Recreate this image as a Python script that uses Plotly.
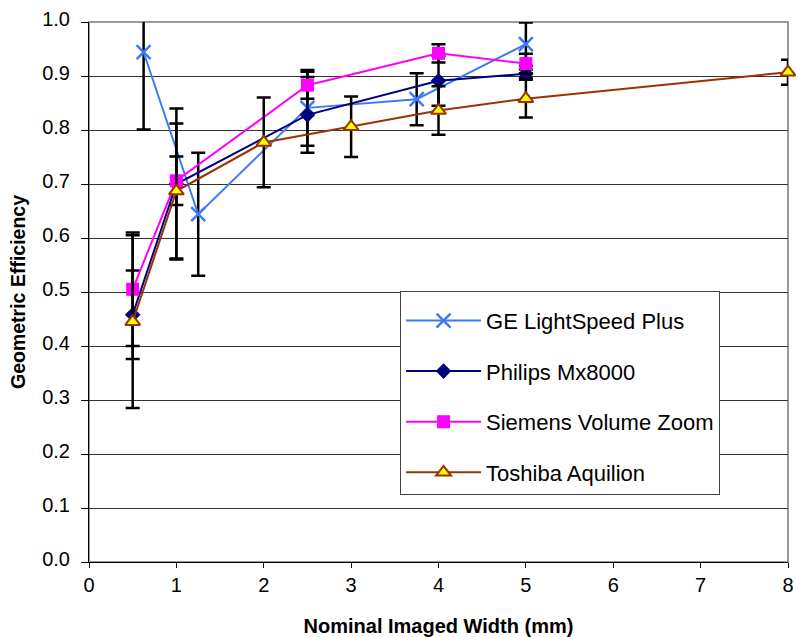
import plotly.graph_objects as go

# ---- data ----
ge_x = [0.625, 1.25, 2.5, 3.75, 5]
ge_y = [0.944, 0.644, 0.841, 0.857, 0.959]
ge_err = [0.143, 0.114, 0.070, 0.048, 0.040]

ph_x = [0.5, 1, 2.5, 4, 5]
ph_y = [0.458, 0.700, 0.828, 0.891, 0.904]
ph_err = [0.082, 0.140, 0.070, 0.046, 0.008]

si_x = [0.5, 1, 2.5, 4, 5]
si_y = [0.505, 0.706, 0.883, 0.942, 0.923]
si_err = [0.105, 0.045, 0.025, 0.017, 0.018]

to_x = [0.5, 1, 2, 3, 4, 5, 8]
to_y = [0.445, 0.687, 0.777, 0.806, 0.836, 0.858, 0.907]
to_err = [0.160, 0.125, 0.083, 0.056, 0.045, 0.035, 0.023]

x_ticks = [0, 1, 2, 3, 4, 5, 6, 7, 8]
y_ticks = [0.0, 0.1, 0.2, 0.3, 0.4, 0.5, 0.6, 0.7, 0.8, 0.9, 1.0]

FONT = "Arial, Liberation Sans, sans-serif"

def eb(err):
    return dict(type="data", array=err, visible=True, color="black",
                thickness=2.5, width=7)

fig = go.Figure()
fig.add_trace(go.Scatter(
    x=ge_x, y=ge_y, name="GE LightSpeed Plus", mode="lines+markers",
    line=dict(color="#3D7BF5", width=2),
    marker=dict(symbol="x-thin-open", size=14, line=dict(color="#3D7BF5", width=2.5)),
    error_y=eb(ge_err), legendgroup="a"))
fig.add_trace(go.Scatter(
    x=ph_x, y=ph_y, name="Philips Mx8000", mode="lines+markers",
    line=dict(color="#000080", width=2),
    marker=dict(symbol="diamond", size=12, color="#000080"),
    error_y=eb(ph_err), legendgroup="b", cliponaxis=False))
fig.add_trace(go.Scatter(
    x=si_x, y=si_y, name="Siemens Volume Zoom", mode="lines+markers",
    line=dict(color="#FF00FF", width=2),
    marker=dict(symbol="square", size=13, color="#FF00FF"),
    error_y=eb(si_err), legendgroup="c", cliponaxis=False))
fig.add_trace(go.Scatter(
    x=to_x, y=to_y, name="Toshiba Aquilion", mode="lines+markers",
    line=dict(color="#993300", width=2),
    marker=dict(symbol="triangle-up", size=13, color="#FFFF00",
                line=dict(color="#993300", width=2)),
    error_y=eb(to_err), legendgroup="d", cliponaxis=False))

fig.update_layout(
    width=796, height=637,
    margin=dict(l=89, r=8, t=22, b=75, autoexpand=False),
    paper_bgcolor="white", plot_bgcolor="white",
    font=dict(family=FONT, size=20, color="black"),
    showlegend=True,
    legend=dict(x=0.445, y=0.502, xanchor="left", yanchor="top",
                bgcolor="white", bordercolor="#444", borderwidth=1,
                font=dict(size=22), tracegroupgap=19,
                title=dict(text=" ", font=dict(size=6)),
                itemwidth=75),
    shapes=[dict(type="rect", xref="x domain", yref="y domain",
                 x0=0, x1=1, y0=0, y1=1, line=dict(color="#999999", width=2),
                 layer="below")],
)
fig.update_xaxes(range=[0, 8], tickvals=x_ticks, ticktext=[str(v) for v in x_ticks],
                 ticks="outside", ticklen=5, tickcolor="black", automargin=False,
                 showline=True, linecolor="black", linewidth=1,
                 showgrid=False, zeroline=False, tickfont=dict(size=20),
                 title=dict(text="<b>Nominal Imaged Width (mm)</b>", font=dict(size=20), standoff=24))
fig.update_yaxes(range=[0, 1], tickvals=y_ticks, tickformat=".1f",
                 ticks="outside", ticklen=7, tickcolor="black", automargin=False,
                 ticklabelstandoff=7, ticklabelshift=-3,
                 showline=True, linecolor="black", linewidth=1, tickfont=dict(size=20),
                 showgrid=True, gridcolor="#333333", gridwidth=1, zeroline=False,
                 title=dict(text="<b>Geometric Efficiency</b>", font=dict(size=19.5), standoff=11))

fig.write_html("out.html", config={"displayModeBar": False},
               post_script="document.body.style.margin='0';document.body.style.overflow='hidden';")
